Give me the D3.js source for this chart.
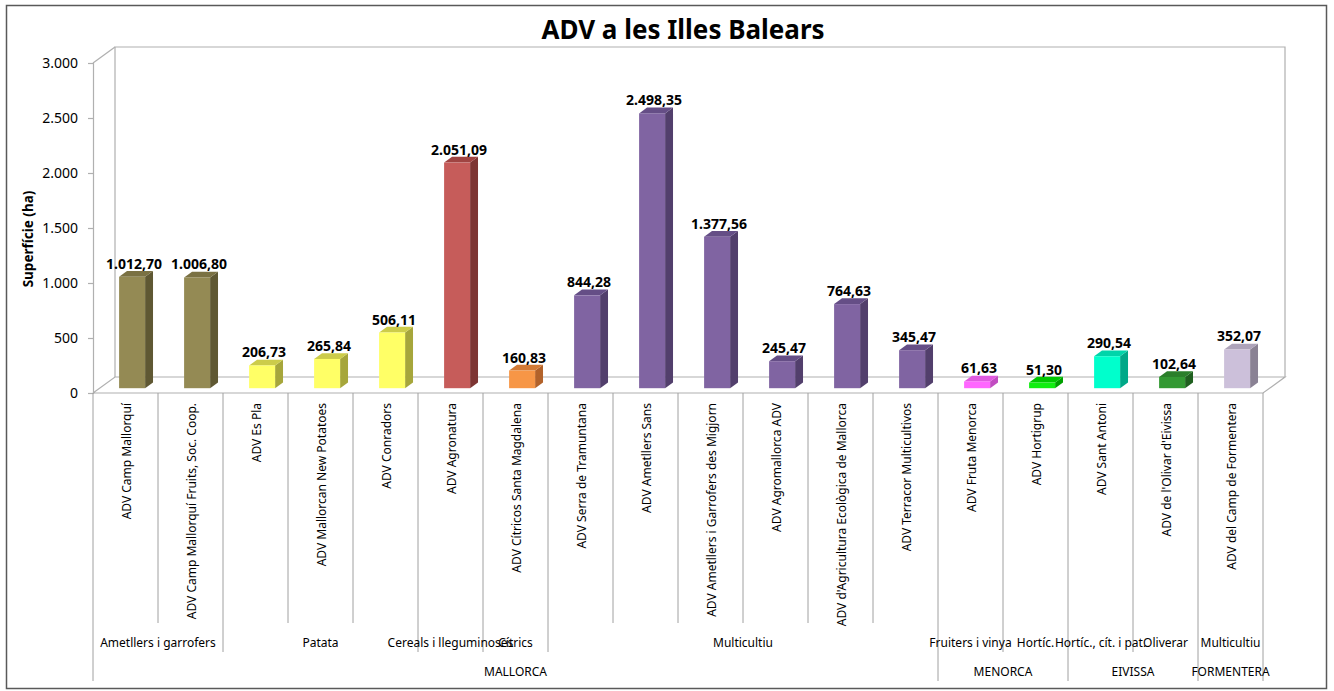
<!DOCTYPE html>
<html>
<head>
<meta charset="utf-8">
<script src="https://cdn.jsdelivr.net/npm/d3@7"></script>
<style>
  body { margin: 0; background: #fff; }
  svg text { font-family: "Noto Sans", "Open Sans", sans-serif; fill: #000; }
</style>
</head>
<body>
<div id="chart"></div>
<script>
// data
var categories = [
  "ADV Camp Mallorquí",
  "ADV Camp Mallorquí Fruits, Soc. Coop.",
  "ADV Es Pla",
  "ADV Mallorcan New Potatoes",
  "ADV Conradors",
  "ADV Agronatura",
  "ADV Cítricos Santa Magdalena",
  "ADV Serra de Tramuntana",
  "ADV Ametllers Sans",
  "ADV Ametllers i Garrofers des Migjorn",
  "ADV Agromallorca ADV",
  "ADV d'Agricultura Ecològica de Mallorca",
  "ADV Terracor Multicultivos",
  "ADV Fruta Menorca",
  "ADV Hortigrup",
  "ADV Sant Antoni",
  "ADV de l'Olivar d'Eivissa",
  "ADV del Camp de Formentera"
];
var values = [1012.70, 1006.80, 206.73, 265.84, 506.11, 2051.09, 160.83, 844.28,
  2498.35, 1377.56, 245.47, 764.63, 345.47, 61.63, 51.30, 290.54, 102.64, 352.07];

var groupNames = ["Ametllers i garrofers", "Patata", "Cereals i lleguminoses", "Cítrics",
  "Multicultiu", "Fruiters i vinya", "Hortíc.", "Hortíc., cít. i pat.", "Oliverar", "Multicultiu"];
var groupSizes = [2, 3, 1, 1, 6, 1, 1, 1, 1, 1];

var islandNames = ["MALLORCA", "MENORCA", "EIVISSA", "FORMENTERA"];
var islandSizes = [13, 2, 2, 1];

var yTicks = [0, 500, 1000, 1500, 2000, 2500, 3000];

// one colour set per group: front, side, top
var groupColors = [
  ["#948A54", "#5F5833", "#7A7143"],
  ["#FFFF66", "#A6A63B", "#CCCC4A"],
  ["#C65C5A", "#7D3533", "#A04442"],
  ["#F79646", "#B2622A", "#D27A35"],
  ["#8064A2", "#523F6C", "#654E86"],
  ["#FF66FF", "#C14CC1", "#E05AE0"],
  ["#11EE11", "#00A000", "#00C800"],
  ["#00FFCC", "#00A888", "#00D5AA"],
  ["#339933", "#1F5F1F", "#2B7F2B"],
  ["#CCC0DA", "#8A8294", "#ADA3B9"]
];

var loc = d3.formatLocale({decimal: ",", thousands: ".", grouping: [3], currency: ["", " €"]});
var fmtTick = loc.format(",.0f");
var fmtVal = loc.format(",.2f");

var width = 1334, height = 691;
var depthX = 22, depthY = -16;
var d0 = 0.3, d1 = 0.66;
var grey = "#B0B0B0";

var svg = d3.select("#chart").append("svg")
  .attr("width", width)
  .attr("height", height);

// outer frame
svg.append("rect")
  .attr("x", 6.5).attr("y", 5.5)
  .attr("width", 1320).attr("height", 683)
  .attr("fill", "none")
  .attr("stroke", "#595959")
  .attr("stroke-width", 1.5);

svg.append("text")
  .attr("x", 683).attr("y", 39)
  .attr("text-anchor", "middle")
  .style("font-size", "26px")
  .style("font-weight", "bold")
  .text("ADV a les Illes Balears");

var x = d3.scaleBand()
  .domain(d3.range(categories.length))
  .range([93, 1263])
  .padding(0);

var y = d3.scaleLinear()
  .domain([0, 3000])
  .range([393, 63]);

var x0 = x.range()[0], x1 = x.range()[1];
var yTop = y(3000), yBase = y(0);

// walls and floor
var frame = svg.append("g").attr("stroke", grey).attr("fill", "none").attr("stroke-width", 1.2);
var wallPath = [
  [x0 + depthX, yBase + depthY], [x0 + depthX, yTop + depthY],
  [x1 + depthX, yTop + depthY], [x1 + depthX, yBase + depthY]
];
frame.append("path").attr("d", d3.line()(wallPath));
frame.append("path").attr("d", d3.line()([[x0, yTop], [x0 + depthX, yTop + depthY]]));
frame.append("path").attr("d", d3.line()([
  [x0, yBase], [x0 + depthX, yBase + depthY], [x1 + depthX, yBase + depthY], [x1, yBase], [x0, yBase]
]));

// y axis
var yAxis = d3.axisLeft(y)
  .tickValues(yTicks)
  .tickFormat(fmtTick)
  .tickSize(5)
  .tickPadding(10);

var yg = svg.append("g")
  .attr("transform", "translate(" + x0 + ",0)")
  .call(yAxis);
yg.selectAll("path, line").attr("stroke", grey).attr("stroke-width", 1.2);
yg.selectAll("text").style("font-size", "14px").style("font-family", "Noto Sans, sans-serif").attr("fill", "#000");

svg.append("text")
  .attr("transform", "translate(33,239) rotate(-90)")
  .attr("text-anchor", "middle")
  .style("font-size", "13.5px")
  .style("font-weight", "bold")
  .text("Superfície (ha)");

// group index per category
var groupOf = [];
groupSizes.forEach(function(n, g) {
  for (var k = 0; k < n; k++) groupOf.push(g);
});

// bars
var barW = x.bandwidth() * 0.4;
var bars = svg.append("g").selectAll("g")
  .data(values)
  .enter()
  .append("g");

function frontLeft(i) {
  return x(i) + (x.bandwidth() - barW) / 2 + d0 * depthX;
}
function pts(list) {
  return list.map(function(p) { return p.join(","); }).join(" ");
}

bars.each(function(v, i) {
  var g = d3.select(this);
  var c = groupColors[groupOf[i]];
  var lx = frontLeft(i), rx = lx + barW;
  var ty = y(v) + d0 * depthY, by = y(0) + d0 * depthY;
  var ox = (d1 - d0) * depthX, oy = (d1 - d0) * depthY;
  g.append("polygon")
    .attr("points", pts([[rx, by], [rx, ty], [rx + ox, ty + oy], [rx + ox, by + oy]]))
    .attr("fill", c[1]);
  g.append("polygon")
    .attr("points", pts([[lx, ty], [rx, ty], [rx + ox, ty + oy], [lx + ox, ty + oy]]))
    .attr("fill", c[2]);
  g.append("rect")
    .attr("x", lx).attr("y", ty)
    .attr("width", barW).attr("height", by - ty)
    .attr("fill", c[0]);
});

svg.append("g").selectAll("text")
  .data(values)
  .enter()
  .append("text")
  .attr("x", function(d, i) { return frontLeft(i) + barW / 2 + 2; })
  .attr("y", function(d) { return y(d) + d0 * depthY - 8; })
  .attr("text-anchor", "middle")
  .style("font-size", "14px")
  .style("font-weight", "bold")
  .text(function(d) { return fmtVal(d); });

// multi-level category axis
var groupEdges = d3.cumsum(groupSizes);
var islandEdges = d3.cumsum(islandSizes);
var lvl1Bottom = 623, lvl2Bottom = 652, lvl3Bottom = 681;

var dividers = svg.append("g").attr("stroke", "#A0A0A0").attr("stroke-width", 1);
d3.range(categories.length + 1).forEach(function(k) {
  var bottom = lvl1Bottom;
  if (k === 0 || islandEdges.indexOf(k) >= 0) bottom = lvl3Bottom;
  else if (groupEdges.indexOf(k) >= 0) bottom = lvl2Bottom;
  var xx = k < categories.length ? x(k) : x1;
  dividers.append("line")
    .attr("x1", xx).attr("x2", xx)
    .attr("y1", yBase).attr("y2", bottom);
});

svg.append("g").selectAll("text")
  .data(categories)
  .enter()
  .append("text")
  .attr("transform", function(d, i) {
    return "translate(" + (x(i) + x.bandwidth() / 2 + 1) + ",403) rotate(-90)";
  })
  .attr("text-anchor", "end")
  .attr("dy", "0.35em")
  .style("font-size", "12px")
  .text(function(d) { return d; });

function spanCenter(sizes, j) {
  var start = j === 0 ? 0 : d3.sum(sizes.slice(0, j));
  var end = start + sizes[j];
  return (x(start) + (end < categories.length ? x(end) : x1)) / 2;
}

svg.append("g").selectAll("text")
  .data(groupNames)
  .enter()
  .append("text")
  .attr("x", function(d, j) { return spanCenter(groupSizes, j); })
  .attr("y", 647)
  .attr("text-anchor", "middle")
  .style("font-size", "12px")
  .text(function(d) { return d; });

svg.append("g").selectAll("text")
  .data(islandNames)
  .enter()
  .append("text")
  .attr("x", function(d, j) { return spanCenter(islandSizes, j); })
  .attr("y", 676)
  .attr("text-anchor", "middle")
  .style("font-size", "12px")
  .text(function(d) { return d; });
</script>
</body>
</html>
